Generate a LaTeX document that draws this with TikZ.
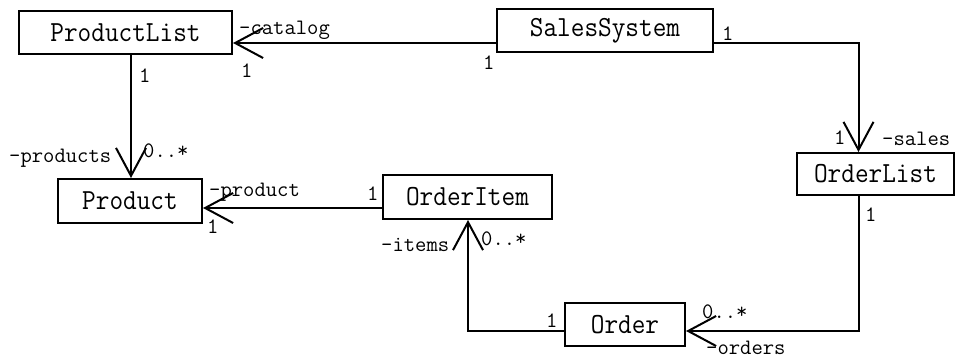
\documentclass[tikz,border=0pt]{standalone}
\usetikzlibrary{arrows.meta}
\newcommand{\tallbx}[1]{\scalebox{1}[1.1]{#1}}
\begin{document}
\begin{tikzpicture}[x=1pt,y=-1pt,
  cls/.style={draw, line width=2pt, minimum height=43pt, inner sep=0pt,
    font=\ttfamily\fontsize{26.5}{27}\selectfont},
  lbl/.style={inner sep=0pt, anchor=base west,
    font=\ttfamily\fontsize{22}{22}\selectfont},
  assoc/.style={line width=2pt, -{Straight Barb[length=28pt,width=30pt]}}]
\useasboundingbox (0,0) rectangle (955,359);
% classes
\node[cls, minimum width=213pt] (pl) at (125.5,32.5) {\tallbx{ProductList}};
\node[cls, minimum width=216pt] (ss) at (605,30.5) {\tallbx{SalesSystem}};
\node[cls, minimum width=157pt, minimum height=42pt] (ol) at (875.5,174) {\tallbx{OrderList}};
\node[cls, minimum width=144pt, minimum height=44pt] (pr) at (130,201) {\tallbx{Product}};
\node[cls, minimum width=169pt, minimum height=44pt] (oi) at (467.5,197) {\tallbx{OrderItem}};
\node[cls, minimum width=120pt] (or) at (625,324.5) {\tallbx{Order}};
% associations
\draw[assoc] ([yshift=-12.5pt]ss.west) coordinate (c1) -- (c1 -| pl.east);
\draw[assoc] ([xshift=5.5pt]pl.south) coordinate (c2) -- (c2 |- pr.north);
\draw[assoc] ([yshift=-11pt]oi.west) coordinate (c3) -- (c3 -| pr.east);
\draw[assoc] ([yshift=-6.5pt]or.west) -| ([xshift=0.5pt]oi.south);
\draw[assoc] ([yshift=-12.5pt]ss.east) -| ([xshift=-17pt]ol.north);
\draw[assoc] ([xshift=-16.5pt]ol.south) |- ([yshift=-6.5pt]or.east);
% labels
\node[lbl] (l1) at (239,34) {-catalog};
\node[lbl] (l2) at (241,77) {1};
\node[lbl] (l3) at (483,69) {1};
\node[lbl] (l4) at (139,82) {1};
\node[lbl] (l5) at (9,162) {-products};
\node[lbl] (l6) at (143,157) {0..*};
\node[lbl] (l7) at (209,196) {-product};
\node[lbl] (l8) at (207,233) {1};
\node[lbl] (l9) at (367,200) {1};
\node[lbl] (l10) at (381,251) {-items};
\node[lbl] (l11) at (481,245) {0..*};
\node[lbl] (l12) at (546,327) {1};
\node[lbl] (l13) at (702,318) {0..*};
\node[lbl] (l14) at (706,354) {-orders};
\node[lbl] (l15) at (722,40) {1};
\node[lbl] (l16) at (834,144) {1};
\node[lbl] (l17) at (882,145) {-sales};
\node[lbl] (l18) at (865,221) {1};
\end{tikzpicture}
\end{document}
